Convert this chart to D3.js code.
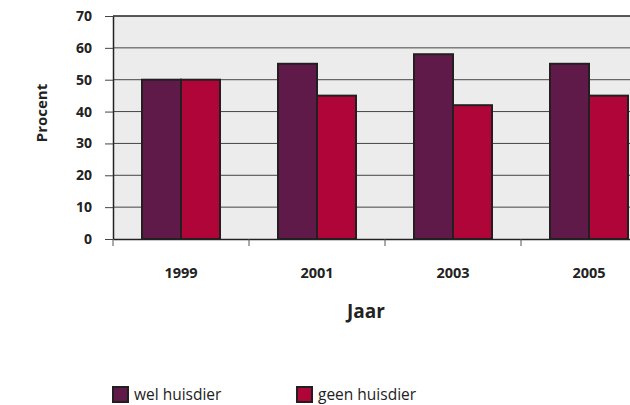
<!DOCTYPE html>
<html>
<head>
<meta charset="utf-8">
<script src="https://cdn.jsdelivr.net/npm/d3@7"></script>
<style>
  body { margin: 0; background: #fff; }
  text { font-family: "Open Sans", "Noto Sans", sans-serif; fill: #222; }
</style>
</head>
<body>
<div id="chart"></div>
<script>
var years = ["1999", "2001", "2003", "2005"];
var series = ["wel huisdier", "geen huisdier"];
var wel = [50, 55, 58, 55];
var geen = [50, 45, 42, 45];
var yTicks = [0, 10, 20, 30, 40, 50, 60, 70];
var colors = ["#5f1a4a", "#b00538"];

var svgWidth = 630, svgHeight = 405;
var margin = { top: 16, left: 113 };
var width = 544, height = 223;

var svg = d3.select("#chart").append("svg")
  .attr("width", svgWidth)
  .attr("height", svgHeight);

var g = svg.append("g")
  .attr("transform", `translate(${margin.left}, ${margin.top})`);

var x = d3.scaleBand().domain(years).range([0, width]).paddingInner(0).paddingOuter(0);
var xSub = d3.scaleBand().domain(series).range([29, x.bandwidth() - 29]);
var y = d3.scaleLinear().domain([0, 70]).range([height, 0]);

// background
g.append("rect")
  .attr("width", width).attr("height", height)
  .attr("fill", "#ececec");

// gridlines
g.selectAll(".grid").data(yTicks.slice(1, -1)).enter().append("line")
  .attr("x1", 0).attr("x2", width)
  .attr("y1", d => y(d)).attr("y2", d => y(d))
  .attr("stroke", "#444").attr("stroke-width", 1);

// top border
g.append("line").attr("x1", 0).attr("x2", width)
  .attr("y1", y(70)).attr("y2", y(70))
  .attr("stroke", "#222").attr("stroke-width", 1.5);

// bars
var data = years.map((yr, i) => ({ year: yr, values: [wel[i], geen[i]] }));
var groups = g.selectAll(".grp").data(data).enter().append("g")
  .attr("transform", d => `translate(${x(d.year)},0)`);
groups.selectAll("rect").data(d => d.values.map((v, j) => ({ key: series[j], v: v, j: j })))
  .enter().append("rect")
  .attr("x", d => xSub(d.key))
  .attr("y", d => y(d.v))
  .attr("width", xSub.bandwidth())
  .attr("height", d => height - y(d.v))
  .attr("fill", d => colors[d.j])
  .attr("stroke", "#231f20").attr("stroke-width", 2);

// y axis
var yAxis = g.append("g")
  .call(d3.axisLeft(y).tickValues(yTicks).tickSize(8).tickPadding(13).tickSizeOuter(0));
yAxis.select(".domain").attr("stroke", "#222").attr("stroke-width", 1.5);
yAxis.selectAll(".tick line").attr("stroke", "#444");
yAxis.selectAll("text").attr("font-size", 14).attr("font-weight", "bold").attr("fill", "#222");

// x axis
var xAxis = g.append("g")
  .attr("transform", `translate(0, ${height})`)
  .call(d3.axisBottom(x).tickSize(0).tickPadding(29).tickSizeOuter(0));
xAxis.select(".domain").attr("stroke", "#222").attr("stroke-width", 1.5);
xAxis.selectAll("text").attr("font-size", 14.5).attr("font-weight", "bold").attr("fill", "#222");
xAxis.selectAll(".bnd").data(years).enter().append("line")
  .attr("x1", d => x(d)).attr("x2", d => x(d))
  .attr("y1", 0).attr("y2", 7)
  .attr("stroke", "#555");

// axis titles
svg.append("text")
  .attr("x", 366).attr("y", 318)
  .attr("text-anchor", "middle")
  .attr("font-size", 19).attr("font-weight", "bold")
  .text("Jaar");

svg.append("text")
  .attr("transform", "rotate(-90)")
  .attr("x", -113).attr("y", 47)
  .attr("text-anchor", "middle")
  .attr("font-size", 15).attr("font-weight", "bold")
  .text("Procent");

// legend
var legendX = [113, 297];
var legend = svg.selectAll(".leg").data(series).enter().append("g")
  .attr("transform", (d, i) => `translate(${legendX[i]}, 387)`);
legend.append("rect")
  .attr("width", 15).attr("height", 15)
  .attr("fill", (d, i) => colors[i])
  .attr("stroke", "#231f20").attr("stroke-width", 2);
legend.append("text")
  .attr("x", 21).attr("y", 13)
  .attr("font-size", 15.5)
  .text(d => d);
</script>
</body>
</html>
